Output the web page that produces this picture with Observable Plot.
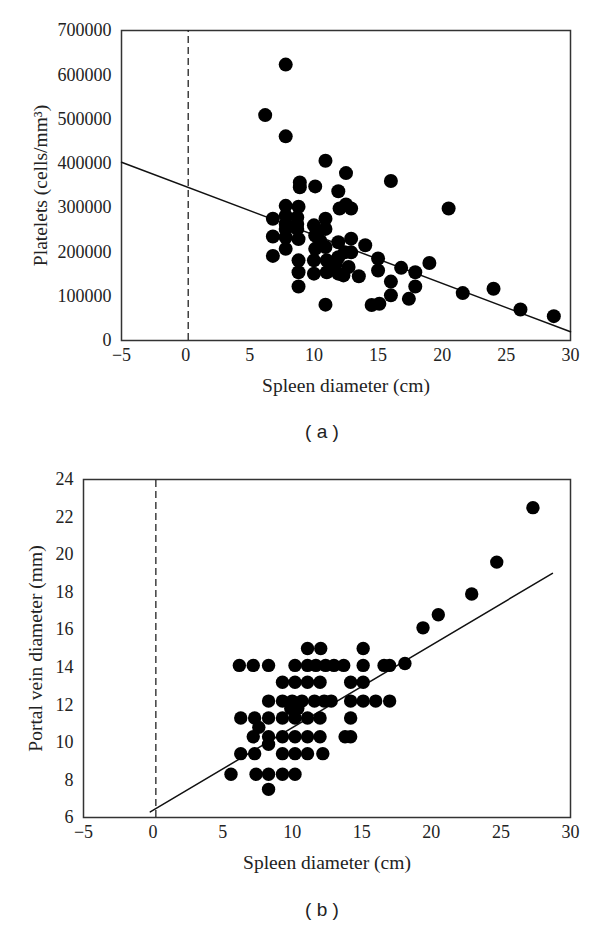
<!DOCTYPE html>
<html><head><meta charset="utf-8">
<script src="https://cdn.jsdelivr.net/npm/d3@7"></script>
<script src="https://cdn.jsdelivr.net/npm/@observablehq/plot@0.6"></script>
<style>
body{margin:0;background:#fff;width:600px;height:926px;position:relative;overflow:hidden;}
.panel{position:absolute;left:0;width:600px;}
.cap{position:absolute;left:44px;width:556px;text-align:center;font-family:"Liberation Sans",Arial,sans-serif;font-size:19px;color:#222;line-height:24px;}
</style></head><body>
<div id="a" class="panel" style="top:0"></div>
<div class="cap" style="top:420px">( a )</div>
<div id="b" class="panel" style="top:450px"></div>
<div class="cap" style="top:898px">( b )</div>
<script>
// Panel (a): spleen diameter (cm) vs platelets (cells/mm3)
const spleenA = [7.8, 6.2, 7.8, 10.9, 12.5, 16.0, 8.9, 8.9, 10.1, 11.9, 7.8, 8.8, 12.0, 12.5, 12.9, 20.5,
  6.8, 7.8, 8.7, 7.8, 8.7, 7.8, 8.7, 6.8, 7.8, 8.8, 7.8, 6.8, 8.8, 8.8, 8.8,
  10.0, 10.9, 10.9, 10.1, 10.1, 10.0, 10.0, 10.9, 11.0, 11.0, 11.9, 11.9, 11.9, 11.7, 12.4, 12.9, 12.9, 12.7, 12.3,
  13.5, 14.0, 15.0, 15.0, 16.8, 17.9, 19.0, 16.0, 17.9, 16.0, 17.4, 14.5, 15.1, 10.9, 21.6, 24.0, 26.1, 28.7,
  10.5, 11.4];
const plateletsA = [623000, 509000, 461000, 406000, 378000, 360000, 357000, 346000, 348000, 337000, 304000, 302000, 298000, 307000, 298000, 298000,
  275000, 282000, 278000, 263000, 263000, 252000, 252000, 235000, 233000, 229000, 207000, 191000, 181000, 154000, 122000,
  260000, 275000, 252000, 237000, 207000, 181000, 151000, 211000, 181000, 154000, 222000, 188000, 151000, 173000, 199000, 230000, 199000, 166000, 147000,
  145000, 215000, 185000, 158000, 164000, 154000, 175000, 133000, 122000, 102000, 94000, 80000, 83000, 81000, 107000, 117000, 70000, 55000,
  225000, 165000];
const trendAx = [-5, 30];
const trendAy = [402600, 19600];

// Panel (b): spleen diameter (cm) vs portal vein diameter (mm)
const spleenB = [11.1, 12.05, 15.1,
  6.2, 7.2, 8.3, 10.2, 11.1, 11.7, 12.4, 13.0, 13.7, 15.1, 16.6, 17.0, 18.1,
  9.3, 10.2, 11.1, 12.0, 14.2, 15.1,
  8.3, 9.3, 10.0, 10.7, 11.6, 12.3, 12.8, 14.2, 15.1, 16.0, 17.0,
  6.3, 7.3, 8.3, 9.3, 10.2, 11.1, 12.0, 14.2,
  7.2, 8.3, 9.3, 10.2, 11.1, 12.0, 13.8, 14.2,
  6.3, 7.3, 9.3, 10.2, 11.1, 12.2,
  5.6, 7.4, 8.3, 9.3, 10.2,
  8.3,
  7.6, 8.3, 9.9, 10.4,
  19.4, 20.5, 22.9, 24.7, 27.3];
const portalB = [15.0, 15.0, 15.0,
  14.1, 14.1, 14.1, 14.1, 14.1, 14.1, 14.1, 14.1, 14.1, 14.1, 14.1, 14.1, 14.2,
  13.2, 13.2, 13.2, 13.2, 13.2, 13.2,
  12.2, 12.2, 12.2, 12.2, 12.2, 12.2, 12.2, 12.2, 12.2, 12.2, 12.2,
  11.3, 11.3, 11.3, 11.3, 11.3, 11.3, 11.3, 11.3,
  10.3, 10.3, 10.3, 10.3, 10.3, 10.3, 10.3, 10.3,
  9.4, 9.4, 9.4, 9.4, 9.4, 9.4,
  8.3, 8.3, 8.3, 8.3, 8.3,
  7.5,
  10.8, 9.9, 11.8, 11.8,
  16.1, 16.8, 17.9, 19.6, 22.5];
const trendBx = [-0.2, 28.7];
const trendBy = [6.3, 19.0];

const xTicks = [-5, 0, 5, 10, 15, 20, 25, 30];
const yTicksA = [0, 100000, 200000, 300000, 400000, 500000, 600000, 700000];
const yTicksB = [6, 8, 10, 12, 14, 16, 18, 20, 22, 24];
const refLineX = [0.2];
const xTitle = "Spleen diameter (cm)";

const rowsA = spleenA.map((s, i) => ({s, v: plateletsA[i]}));
const rowsB = spleenB.map((s, i) => ({s, v: portalB[i]}));
const trendA = trendAx.map((s, i) => ({s, v: trendAy[i]}));
const trendB = trendBx.map((s, i) => ({s, v: trendBy[i]}));

const style = {fontFamily: '"Liberation Serif", "Times New Roman", serif', fontSize: "18px", color: "#222", background: "white"};

function chart({rows, trend, yTicks, yDomain, yLabel, ml, mt, height, r, yLabelX}) {
  return Plot.plot({
    width: 600, height,
    marginLeft: ml, marginRight: 30, marginTop: mt, marginBottom: 60,
    style,
    x: {domain: [-5, 30], ticks: xTicks, tickSize: 0, tickPadding: 8, tickFormat: d3.format("d"), label: null},
    y: {domain: yDomain, ticks: yTicks, tickSize: 0, tickPadding: 10, tickFormat: d3.format("d"), label: null},
    marks: [
      Plot.frame({stroke: "#333", strokeWidth: 1.5}),
      Plot.ruleX(refLineX, {y1: yDomain[0], y2: yDomain[1], stroke: "#222", strokeWidth: 1.3, strokeDasharray: "7,4"}),
      Plot.line(trend, {x: "s", y: "v", stroke: "#111", strokeWidth: 1.5}),
      Plot.dot(rows, {x: "s", y: "v", r, fill: "black", stroke: "none"}),
      Plot.text([xTitle], {frameAnchor: "bottom", lineAnchor: "middle", textAnchor: "middle", dy: 45, fontSize: 19.5, fill: "#222"}),
      Plot.text([yLabel], {frameAnchor: "left", lineAnchor: "middle", textAnchor: "middle", dx: -yLabelX, rotate: -90, fontSize: 19.5, fill: "#222"})
    ]
  });
}

document.getElementById("a").append(chart({rows: rowsA, trend: trendA, yTicks: yTicksA, yDomain: [0, 700000],
  yLabel: "Platelets (cells/mm³)", ml: 121, mt: 30, height: 400, r: 7, yLabelX: 81}));
document.getElementById("b").append(chart({rows: rowsB, trend: trendB, yTicks: yTicksB, yDomain: [6, 24],
  yLabel: "Portal vein diameter (mm)", ml: 83, mt: 29, height: 427, r: 6.7, yLabelX: 48}));
</script>
</body></html>
